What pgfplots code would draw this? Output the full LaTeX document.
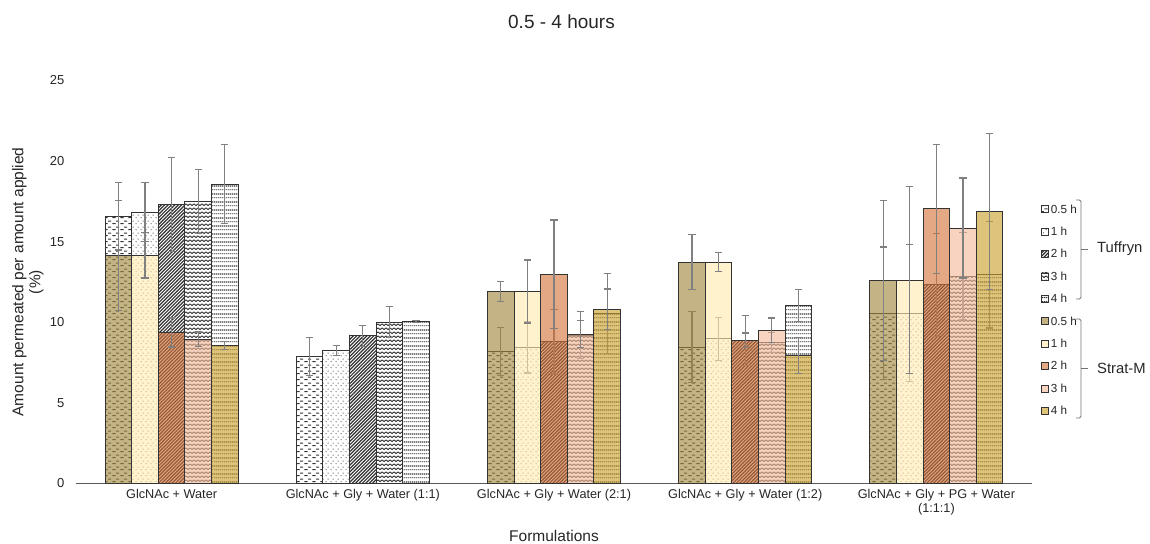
\documentclass[border=0pt]{standalone}
\usepackage{pgfplots}
\pgfplotsset{compat=1.18}
\usepackage{fontspec}
\setmainfont{Liberation Sans}
\usetikzlibrary{patterns}

\pgfdeclarepatternformonly{pdash}{\pgfqpoint{0pt}{0pt}}{\pgfqpoint{8pt}{6pt}}{\pgfqpoint{8pt}{6pt}}{%
  \pgfsetlinewidth{1.1pt}%
  \pgfpathmoveto{\pgfqpoint{0.5pt}{1.5pt}}\pgfpathlineto{\pgfqpoint{4pt}{1.5pt}}%
  \pgfpathmoveto{\pgfqpoint{4.5pt}{4.5pt}}\pgfpathlineto{\pgfqpoint{8pt}{4.5pt}}%
  \pgfusepath{stroke}}
\pgfdeclarepatternformonly{pdots}{\pgfqpoint{0pt}{0pt}}{\pgfqpoint{5pt}{6pt}}{\pgfqpoint{5pt}{6pt}}{%
  \pgfpathcircle{\pgfqpoint{1.25pt}{1.5pt}}{0.65pt}%
  \pgfpathcircle{\pgfqpoint{3.75pt}{4.5pt}}{0.65pt}%
  \pgfusepath{fill}}
\pgfdeclarepatternformonly{pdiag}{\pgfqpoint{-1pt}{-1pt}}{\pgfqpoint{4.5pt}{4.5pt}}{\pgfqpoint{3.4pt}{3.4pt}}{%
  \pgfsetlinewidth{1.2pt}%
  \pgfpathmoveto{\pgfqpoint{0pt}{0pt}}\pgfpathlineto{\pgfqpoint{3.5pt}{3.5pt}}%
  \pgfusepath{stroke}}
\pgfdeclarepatternformonly{pzig}{\pgfqpoint{-0.5pt}{0pt}}{\pgfqpoint{4.5pt}{4pt}}{\pgfqpoint{4pt}{4pt}}{%
  \pgfsetlinewidth{0.9pt}%
  \pgfpathmoveto{\pgfqpoint{-0.5pt}{1.875pt}}\pgfpathlineto{\pgfqpoint{0pt}{1.5pt}}%
  \pgfpathlineto{\pgfqpoint{2pt}{3pt}}\pgfpathlineto{\pgfqpoint{4pt}{1.5pt}}%
  \pgfpathlineto{\pgfqpoint{4.5pt}{1.875pt}}%
  \pgfusepath{stroke}}
\pgfdeclarepatternformonly{phoriz}{\pgfqpoint{0pt}{0pt}}{\pgfqpoint{2pt}{8pt}}{\pgfqpoint{2pt}{8pt}}{%
  \pgfsetlinewidth{0.8pt}\pgfpathmoveto{\pgfqpoint{0pt}{1.5pt}}\pgfpathlineto{\pgfqpoint{2pt}{1.5pt}}\pgfusepath{stroke}%
  \pgfsetlinewidth{1.4pt}\pgfpathmoveto{\pgfqpoint{0pt}{5.5pt}}\pgfpathlineto{\pgfqpoint{2pt}{5.5pt}}\pgfusepath{stroke}}

\definecolor{sA}{RGB}{160,134,58}
\definecolor{sB}{RGB}{255,234,173}
\definecolor{sC}{RGB}{211,115,57}
\definecolor{sD}{RGB}{244,186,153}
\definecolor{sE}{RGB}{202,160,41}
\definecolor{ebar}{RGB}{128,128,128}

\pgfplotsset{
  mylegend/.style={legend image code/.code={\draw[##1,/tikz/.cd,draw=black!80,line width=0.7pt] (0pt,-3.5pt) rectangle (7pt,3.5pt);}},
  myerr/.style={error bars/.cd, y dir=both, y explicit,
    error bar style={color=ebar, line width=1.2pt},
    error mark options={rotate=90, mark size=3.6pt, color=ebar, line width=1.2pt}},
  tuf/.style={ybar, bar width=26.6pt, bar shift=0pt, pattern=#1, pattern color=black!80,
    draw=black!80, line width=0.9pt, mylegend, myerr},
  strat/.style={ybar, bar width=26.6pt, bar shift=0pt, fill=#1, fill opacity=0.62,
    draw=black!80, line width=0.9pt, mylegend, myerr},
}

\begin{document}
\begin{tikzpicture}
\useasboundingbox (0,0) rectangle (1150pt,543pt);
\begin{axis}[
  at={(76pt,59.5pt)}, anchor=south west,
  scale only axis, width=956pt, height=403pt,
  xmin=-0.5, xmax=4.5, ymin=0, ymax=25,
  axis x line=bottom, axis y line=left,
  axis line style={-},
  x axis line style={draw=black!65, line width=0.9pt},
  y axis line style={draw=none},
  xtick={0,1,2,3,4},
  xticklabels={GlcNAc + Water, GlcNAc + Gly + Water (1:1), GlcNAc + Gly + Water (2:1), GlcNAc + Gly + Water (1:2), {GlcNAc + Gly + PG + Water\\(1:1:1)}},
  ytick={0,5,10,15,20,25},
  tick style={draw=none},
  /pgf/number format/assume math mode=true,
  xticklabel style={font=\fontsize{12.7}{14}\selectfont, align=center, text=black!85},
  yticklabel style={font=\fontsize{13}{15}\selectfont, text=black!85, xshift=-6pt},
  xlabel={Formulations},
  xlabel style={at={(axis description cs:0.5,0)}, anchor=center, yshift=-52.5pt, font=\fontsize{15.5}{18}\selectfont, text=black!85},
  ylabel={Amount permeated per amount applied\\(\%)},
  ylabel style={at={(axis description cs:-0.0503,0.5)}, anchor=center, align=center, font=\fontsize{15.5}{17}\selectfont, text=black!85},
  legend style={at={(axis description cs:1,1)}, anchor=north west, xshift=9pt, yshift=-124pt,
    draw=none, fill=none, inner sep=0pt, row sep=13.4pt,
    font=\fontsize{11.7}{13}\selectfont, text=black!85,
    nodes={inner sep=0pt, text height=8.5pt, text depth=0.5pt},
    /tikz/every odd column/.append style={column sep=2pt}},
  legend cell align=left,
]
% Tuffryn
\addplot[tuf=pdash] coordinates {(-0.2782,16.57)+-(0,2.08) (0.7218,7.88)+-(0,1.2) (1.7218,8.19)+-(0,1.5) (2.7218,8.46)+-(0,2.2) (3.7218,10.57)+-(0,4.1)};
\addplot[tuf=pdots] coordinates {(-0.1391,16.84)+-(0,1.84) (0.8609,8.25)+-(0,0.33) (1.8609,8.46)+-(0,1.6) (2.8609,8.97)+-(0,1.35) (3.8609,10.57)+-(0,4.25)};
\addplot[tuf=pdiag] coordinates {(0,17.3)+-(0,2.9) (1,9.16)+-(0,0.66) (2,8.79)+-(0,2.0) (3,8.85)+-(0,1.55) (4,12.33)+-(0,3.2)};
\addplot[tuf=pzig] coordinates {(0.1391,17.5)+-(0,1.97) (1.1391,10.01)+-(0,0.95) (2.1391,9.2)+-(0,1.45) (3.1391,8.75)+-(0,0.6) (4.1391,12.85)+-(0,2.7)};
\addplot[tuf=phoriz] coordinates {(0.2782,18.58)+-(0,2.45) (1.2782,10.05)+-(0,0.08) (2.2782,10.55)+-(0,2.5) (3.2782,11.05)+-(0,1.0) (4.2782,12.95)+-(0,3.3)};
% Strat-M
\addplot[strat=sA] coordinates {(-0.2782,14.15)+-(0,3.42) (1.7218,11.91)+-(0,0.6) (2.7218,13.74)+-(0,1.72) (3.7218,12.6)+-(0,4.97)};
\addplot[strat=sB] coordinates {(-0.1391,14.15)+-(0,1.4) (1.8609,11.91)+-(0,1.95) (2.8609,13.74)+-(0,0.57) (3.8609,12.6)+-(0,5.8)};
\addplot[strat=sC] coordinates {(0,9.37)+-(0,0.9) (2,12.99)+-(0,3.35) (3,8.89)+-(0,0.45) (4,17.05)+-(0,4.0)};
\addplot[strat=sD] coordinates {(0.1391,8.95)+-(0,0.45) (2.1391,9.27)+-(0,0.85) (3.1391,9.52)+-(0,0.75) (4.1391,15.85)+-(0,3.1)};
\addplot[strat=sE] coordinates {(0.2782,8.56)+-(0,0.23) (2.2782,10.8)+-(0,1.27) (3.2782,7.94)+-(0,1.1) (4.2782,16.88)+-(0,4.85)};
\legend{0.5 h, 1 h, 2 h, 3 h, 4 h, 0.5 h, 1 h, 2 h, 3 h, 4 h}
\end{axis}
\node[font=\fontsize{19}{22}\selectfont, text=black!85] at (561.5pt,521pt) {0.5 - 4 hours};
\draw[black!55, line width=0.8pt, rounded corners=1.5pt] (1076pt,343pt) -- (1081pt,343pt) -- (1081pt,244pt) -- (1076pt,244pt);
\draw[black!55, line width=0.8pt] (1081pt,294pt) -- (1088pt,294pt);
\node[anchor=west, inner sep=0pt, font=\fontsize{14.8}{17}\selectfont, text=black!85] at (1097pt,294pt) {Tuffryn};
\draw[black!55, line width=0.8pt, rounded corners=1.5pt] (1076pt,224pt) -- (1081pt,224pt) -- (1081pt,125pt) -- (1076pt,125pt);
\draw[black!55, line width=0.8pt] (1081pt,175pt) -- (1088pt,175pt);
\node[anchor=west, inner sep=0pt, font=\fontsize{14.8}{17}\selectfont, text=black!85] at (1097pt,175pt) {Strat-M};
\end{tikzpicture}
\end{document}
